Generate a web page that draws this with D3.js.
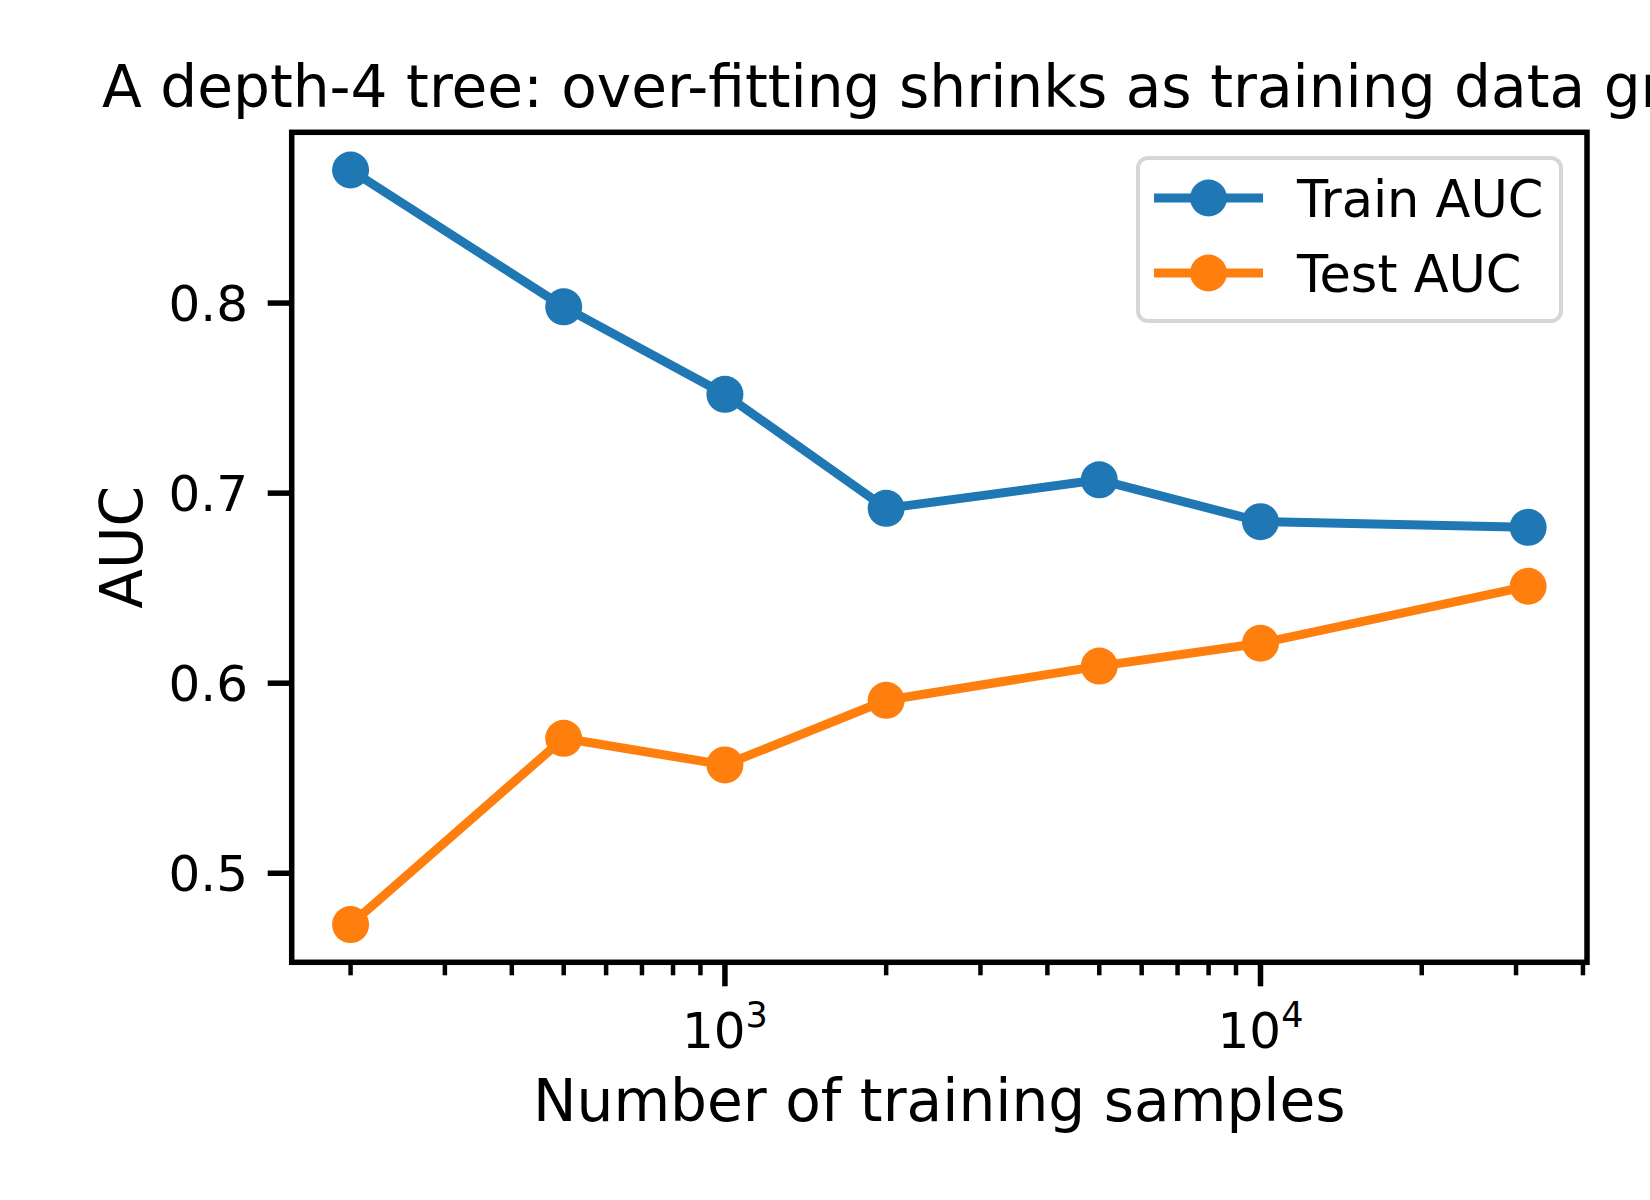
<!DOCTYPE html>
<html>
<head>
<meta charset="utf-8">
<script src="https://cdn.jsdelivr.net/npm/d3@7"></script>
<style>
    html, body { margin: 0; padding: 0; background: #fff; }
    svg { display: block; font-family: "DejaVu Sans", sans-serif; }
</style>
</head>
<body>
<svg id="chart" width="1650" height="1200"></svg>
<script>
// ── Data ─────────────────────────────────────────────────
const SAMPLES   = [200, 500, 1000, 2000, 5000, 10000, 31600];
const TRAIN_AUC = [0.870, 0.798, 0.752, 0.692, 0.707, 0.685, 0.682];
const TEST_AUC  = [0.473, 0.571, 0.557, 0.591, 0.609, 0.621, 0.651];
const SERIES_NAMES  = ['Train AUC', 'Test AUC'];
const Y_TICKS       = [0.5, 0.6, 0.7, 0.8];
const TITLE   = 'A depth-4 tree: over-fitting shrinks as training data grows';
const X_LABEL = 'Number of training samples';
const Y_LABEL = 'AUC';

(function () {
    'use strict';

    const COLORS = ['#1f77b4', '#ff7f0e'];

    // axes box in pixels
    const LEFT = 291.7, RIGHT = 1587, TOP = 132.3, BOTTOM = 962.3;
    const SPINE_W   = 5.5;
    const MAJOR_LEN = 24, MINOR_LEN = 13;
    const LINE_W    = 9;
    const MARKER_R  = 18.5;
    const TICK_FONT = 50;
    const LEGEND_FONT = 51;
    const LABEL_FONT = 58.2;

    const svg = d3.select('#chart');
    const series = [TRAIN_AUC, TEST_AUC].map((vals, i) => ({
        name: SERIES_NAMES[i],
        color: COLORS[i],
        points: SAMPLES.map((n, j) => ({ n, v: vals[j] })),
    }));

    // ── Scales (matplotlib-ish 5% margins) ─────────────────
    const lo = Math.log10(d3.min(SAMPLES)), hi = Math.log10(d3.max(SAMPLES));
    const xPad = (hi - lo) * 0.05;
    const x = d3.scaleLog()
        .domain([Math.pow(10, lo - xPad), Math.pow(10, hi + xPad)])
        .range([LEFT, RIGHT]);

    const allVals = TRAIN_AUC.concat(TEST_AUC);
    const yMin = d3.min(allVals), yMax = d3.max(allVals);
    const yPad = (yMax - yMin) * 0.05;
    const y = d3.scaleLinear()
        .domain([yMin - yPad, yMax + yPad])
        .range([BOTTOM, TOP]);

    // ── X ticks ───────────────────────────────────────────
    const xTicks = x.ticks();
    const isMajor = t => Math.abs(Math.log10(t) - Math.round(Math.log10(t))) < 1e-9;

    const xt = svg.append('g');
    xt.selectAll('line')
      .data(xTicks)
      .join('line')
      .attr('x1', d => x(d)).attr('x2', d => x(d))
      .attr('y1', BOTTOM)
      .attr('y2', d => BOTTOM + (isMajor(d) ? MAJOR_LEN : MINOR_LEN))
      .attr('stroke', '#000')
      .attr('stroke-width', d => isMajor(d) ? SPINE_W : 4.5);

    xTicks.filter(isMajor).forEach(t => {
        const txt = xt.append('text')
            .attr('x', x(t))
            .attr('y', 1048)
            .attr('text-anchor', 'middle')
            .attr('font-size', TICK_FONT)
            .attr('fill', '#000');
        txt.append('tspan').text('10');
        txt.append('tspan')
           .attr('font-size', 35)
           .attr('dy', -21.5)
           .text(Math.round(Math.log10(t)));
    });

    // ── Y ticks ───────────────────────────────────────────
    const yt = svg.append('g');
    yt.selectAll('line')
      .data(Y_TICKS)
      .join('line')
      .attr('x1', LEFT - MAJOR_LEN).attr('x2', LEFT)
      .attr('y1', d => y(d)).attr('y2', d => y(d))
      .attr('stroke', '#000')
      .attr('stroke-width', SPINE_W);

    yt.selectAll('text')
      .data(Y_TICKS)
      .join('text')
      .attr('x', 248)
      .attr('y', d => y(d) + 18)
      .attr('text-anchor', 'end')
      .attr('font-size', TICK_FONT)
      .attr('fill', '#000')
      .text(d => d3.format('.1f')(d));

    // ── Lines + markers ───────────────────────────────────
    const line = d3.line().x(d => x(d.n)).y(d => y(d.v));

    series.forEach(s => {
        const g = svg.append('g');
        g.append('path')
         .datum(s.points)
         .attr('fill', 'none')
         .attr('stroke', s.color)
         .attr('stroke-width', LINE_W)
         .attr('stroke-linejoin', 'round')
         .attr('d', line);
        g.selectAll('circle')
         .data(s.points)
         .join('circle')
         .attr('cx', d => x(d.n))
         .attr('cy', d => y(d.v))
         .attr('r', MARKER_R)
         .attr('fill', s.color);
    });

    // ── Spines ────────────────────────────────────────────
    svg.append('rect')
       .attr('x', LEFT).attr('y', TOP)
       .attr('width', RIGHT - LEFT)
       .attr('height', BOTTOM - TOP)
       .attr('fill', 'none')
       .attr('stroke', '#000')
       .attr('stroke-width', SPINE_W)
       .attr('stroke-linejoin', 'miter');

    // ── Legend ────────────────────────────────────────────
    const legend = svg.append('g');
    legend.append('rect')
          .attr('x', 1138).attr('y', 158)
          .attr('width', 423).attr('height', 163)
          .attr('rx', 10)
          .attr('fill', 'rgba(255,255,255,0.8)')
          .attr('stroke', '#d6d6d6')
          .attr('stroke-width', 4);

    series.forEach((s, i) => {
        const cy = 198 + i * 75;
        legend.append('line')
              .attr('x1', 1154).attr('x2', 1263)
              .attr('y1', cy).attr('y2', cy)
              .attr('stroke', s.color)
              .attr('stroke-width', LINE_W);
        legend.append('circle')
              .attr('cx', 1208.5).attr('cy', cy)
              .attr('r', MARKER_R)
              .attr('fill', s.color);
        legend.append('text')
              .attr('x', 1297)
              .attr('y', cy + 18.5)
              .attr('font-size', LEGEND_FONT)
              .attr('fill', '#000')
              .text(s.name);
    });

    // ── Titles ────────────────────────────────────────────
    const midX = (LEFT + RIGHT) / 2;
    svg.append('text')
       .attr('x', midX).attr('y', 107)
       .attr('text-anchor', 'middle')
       .attr('font-size', LABEL_FONT)
       .attr('fill', '#000')
       .text(TITLE);

    svg.append('text')
       .attr('x', midX).attr('y', 1121)
       .attr('text-anchor', 'middle')
       .attr('font-size', LABEL_FONT)
       .attr('fill', '#000')
       .text(X_LABEL);

    svg.append('text')
       .attr('transform', `translate(142,${(TOP + BOTTOM) / 2}) rotate(-90)`)
       .attr('text-anchor', 'middle')
       .attr('font-size', LABEL_FONT)
       .attr('fill', '#000')
       .text(Y_LABEL);
})();
</script>
</body>
</html>
